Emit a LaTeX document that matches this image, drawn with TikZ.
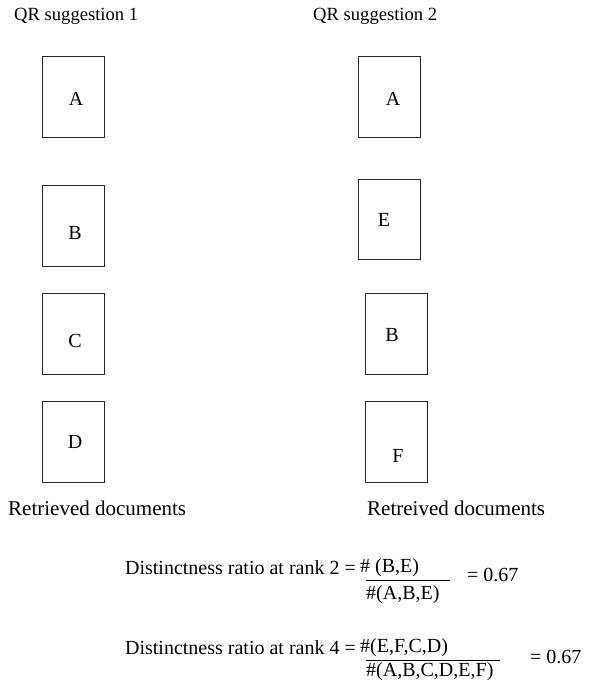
\documentclass[tikz,border=0pt]{standalone}
\usepackage{fontspec}
\setmainfont{Liberation Serif}
\begin{document}
\begin{tikzpicture}[x=1pt,y=-1pt,
  docbox/.style={draw=black!85, line width=1pt, minimum width=62pt, minimum height=81pt, inner sep=0pt},
  txt/.style={inner sep=0pt, font=\fontsize{20}{24}\selectfont},
  headtxt/.style={inner sep=0pt, font=\fontsize{18.6}{22}\selectfont},
  captxt/.style={inner sep=0pt, font=\fontsize{21}{25}\selectfont},
  fracline/.style={line width=0.9pt}]
\useasboundingbox (0,0) rectangle (591,682);
% headings
\node[headtxt, anchor=base west] (h1) at (14,21) {QR suggestion 1};
\node[headtxt, anchor=base west] (h2) at (313,21) {QR suggestion 2};
% left column
\node[docbox] (la) at (73,97) {};
\node[docbox] (lb) at (73,226) {};
\node[docbox] (lc) at (73,333.5) {};
\node[docbox] (ld) at (73,441.5) {};
\node[txt] (tla) at (76,99) {A};
\node[txt] (tlb) at (75,233) {B};
\node[txt] (tlc) at (75,341) {C};
\node[txt] (tld) at (75,442) {D};
% right column
\node[docbox] (ra) at (389,97) {};
\node[docbox, minimum height=80pt] (re) at (389,219) {};
\node[docbox] (rb) at (396,333.5) {};
\node[docbox] (rf) at (396,441.5) {};
\node[txt] (tra) at (393,99) {A};
\node[txt] (tre) at (384,220) {E};
\node[txt] (trb) at (392,335) {B};
\node[txt] (trf) at (398,456) {F};
% captions
\node[captxt, anchor=west] (c1) at (8,508) {Retrieved documents};
\node[captxt, anchor=west] (c2) at (367,508) {Retreived documents};
% formula 1
\node[txt, anchor=east] (f1l) at (356,568) {Distinctness ratio at rank 2 =};
\node[txt, anchor=west] (f1n) at (360,568) {\# (B,E)};
\coordinate (f1a) at (366,580);
\coordinate (f1b) at (450,580);
\draw[fracline] (f1a) -- (f1b);
\node[txt, anchor=west] (f1d) at (366,595) {\#(A,B,E)};
\node[txt, anchor=west] (f1r) at (467,575) {= 0.67};
% formula 2
\node[txt, anchor=east] (f2l) at (356,648) {Distinctness ratio at rank 4 =};
\node[txt, anchor=west] (f2n) at (360,648) {\#(E,F,C,D)};
\coordinate (f2a) at (366,660);
\coordinate (f2b) at (500,660);
\draw[fracline] (f2a) -- (f2b);
\node[txt, anchor=west] (f2d) at (366,672) {\#(A,B,C,D,E,F)};
\node[txt, anchor=west] (f2r) at (530,657) {= 0.67};
\end{tikzpicture}
\end{document}
